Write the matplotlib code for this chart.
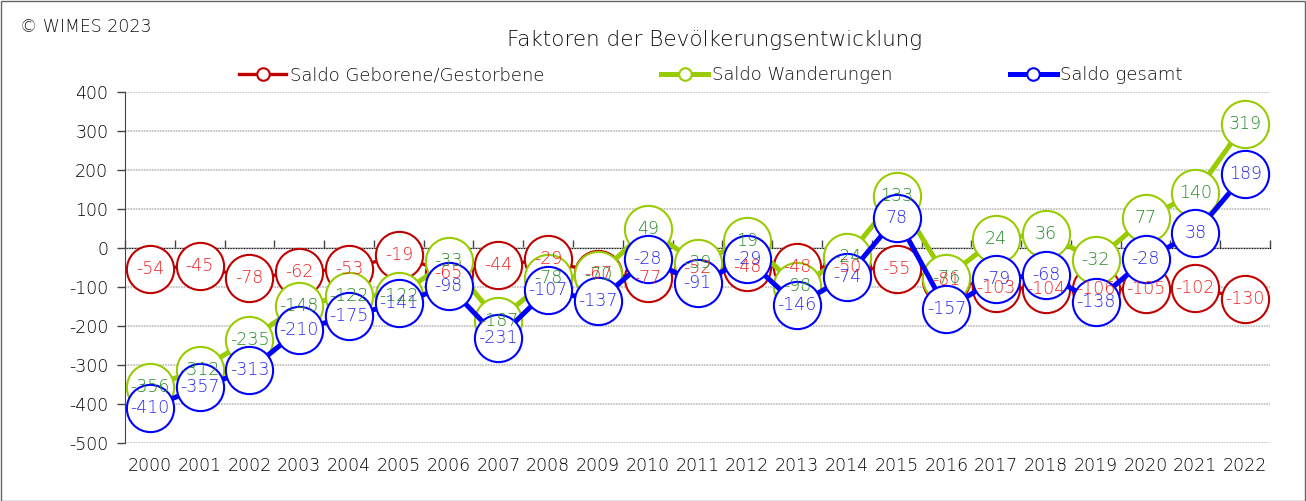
import matplotlib
matplotlib.use("Agg")
import matplotlib.pyplot as plt
import numpy as np

plt.rcParams['font.family'] = ['DejaVu Sans']
plt.rcParams['font.weight'] = 'light'

#------------------------------------------------------------------------------
# data

years = [str(y) for y in range(2000, 2023)]
geb_gest = [-54, -45, -78, -62, -53, -19, -65, -44, -29, -67, -77, -52,
            -48, -48, -50, -55, -81, -103, -104, -106, -105, -102, -130]
wanderung = [-356, -312, -235, -148, -122, -122, -33, -187, -78, -70, 49, -39,
             19, -98, -24, 133, -76, 24, 36, -32, 77, 140, 319]
gesamt = [-410, -357, -313, -210, -175, -141, -98, -231, -107, -137, -28, -91,
          -29, -146, -74, 78, -157, -79, -68, -138, -28, 38, 189]

labels = ["Saldo Geborene/Gestorbene", "Saldo Wanderungen", "Saldo gesamt"]
yticks = list(range(-500, 401, 100))

#------------------------------------------------------------------------------

series = [
  (geb_gest, "#C00000", "#F02020", 2.4),
  (wanderung, "#99CC00", "#228B22", 3.6),
  (gesamt, "#0000FF", "#2828F0", 3.6),
]

W, H = 1306, 501
fig = plt.figure(figsize=(W/100, H/100), dpi=100)
ax = fig.add_axes([125/W, 1 - 443/H, 1145/W, 351/H])

x = np.arange(len(years))
z = 2
for (vals, lc, tc, lw), name in zip(series, labels):
  ax.plot(x, vals, color=lc, lw=lw, zorder=z, solid_capstyle='butt')
  ax.plot(x, vals, ls='none', marker='o', ms=34, mfc='white', mec=lc,
          mew=1.5, zorder=z + 0.5)
  # legend proxy
  ax.plot([], [], color=lc, lw=lw, marker='o', ms=9, mfc='white', mec=lc,
          mew=1.5, label=name)
  z += 1

for vals, lc, tc, lw in series:
  for xi, v in zip(x, vals):
    ax.text(xi, v, str(v), color=tc, fontsize=12.5, ha='center',
            va='center', zorder=10)

ax.set_xlim(-0.5, len(years) - 0.5)
ax.set_ylim(-500, 400)
ax.set_yticks(yticks)
ax.set_yticklabels([str(t) for t in yticks], fontsize=12.5, color='#000000')
ax.set_xticks(x)
ax.set_xticklabels(years, fontsize=12.5, color='#000000')
ax.tick_params(axis='x', length=0, pad=10)
ax.tick_params(axis='y', length=6, width=1, color='#444444', pad=6)
ax.grid(axis='y', color='#BBBBBB', ls=(0, (1, 0.6)), lw=1.2, zorder=0)
for s in ['top', 'right', 'bottom']:
  ax.spines[s].set_visible(False)
ax.spines['left'].set_color('#444444')

# zero axis with category separators
sec = ax.secondary_xaxis(500/900)
sec.set_xticks(np.arange(len(years) + 1) - 0.5)
sec.set_xticklabels([])
sec.tick_params(length=6, width=1, color='#444444')
sec.spines['bottom'].set_color('#444444')

fig.legend(loc='center', bbox_to_anchor=(711/W, 1 - 75/H), ncol=3,
           frameon=False, fontsize=13, columnspacing=6.5, handlelength=2.6,
           handletextpad=0.2, labelcolor='#111111')

fig.text(715/W, 1 - 40/H, "Faktoren der Bevölkerungsentwicklung",
         ha='center', va='center', fontsize=15.5, color='#111111')
fig.text(20/W, 1 - 27/H, "© WIMES 2023", ha='left', va='center',
         fontsize=12.5, color='#111111')

fig.patches.append(plt.Rectangle((0.5/W, 0.5/H), 1 - 1.5/W, 1 - 1.5/H,
                   transform=fig.transFigure, fill=False, ec='#666666', lw=1))

fig.savefig("out.png", dpi=100)
